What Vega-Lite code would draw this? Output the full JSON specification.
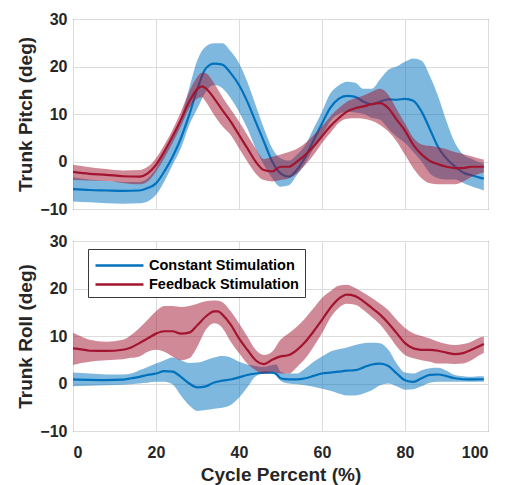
{
  "$schema": "https://vega.github.io/schema/vega-lite/v6.json",
  "padding": {"left": 16, "top": 10, "right": 5, "bottom": 5},
  "background": "white",
  "bounds": "flush",
  "spacing": 32,
  "config": {
    "font": "Liberation Sans",
    "view": {"stroke": "#3a3a3a", "strokeWidth": 1},
    "axis": {
      "labelFont": "Liberation Sans", "labelFontWeight": "bold", "labelFontSize": 16, "labelColor": "#262626",
      "titleFont": "Liberation Sans", "titleFontWeight": "bold", "titleFontSize": 19, "titleColor": "#262626",
      "gridColor": "#dcdcdc", "gridWidth": 1, "domain": false, "ticks": false
    },
    "axisY": {"labelPadding": 6},
    "axisX": {"labelPadding": 13}
  },
  "datasets": {
    "d": [
      {"p":"Pitch","g":"Constant Stimulation","x":0,"m":-5.8,"lo":-8.4,"hi":-3.3},
      {"p":"Pitch","g":"Constant Stimulation","x":4,"m":-6.0,"lo":-8.6,"hi":-3.8},
      {"p":"Pitch","g":"Constant Stimulation","x":8,"m":-6.1,"lo":-8.8,"hi":-4.1},
      {"p":"Pitch","g":"Constant Stimulation","x":12,"m":-6.2,"lo":-8.9,"hi":-4.3},
      {"p":"Pitch","g":"Constant Stimulation","x":16,"m":-6.1,"lo":-8.8,"hi":-4.3},
      {"p":"Pitch","g":"Constant Stimulation","x":18,"m":-5.6,"lo":-8.4,"hi":-3.5},
      {"p":"Pitch","g":"Constant Stimulation","x":20,"m":-4.6,"lo":-7.0,"hi":-1.4},
      {"p":"Pitch","g":"Constant Stimulation","x":22,"m":-2.1,"lo":-4.2,"hi":1.8},
      {"p":"Pitch","g":"Constant Stimulation","x":24,"m":1.0,"lo":-0.7,"hi":4.9},
      {"p":"Pitch","g":"Constant Stimulation","x":26,"m":4.9,"lo":2.8,"hi":9.1},
      {"p":"Pitch","g":"Constant Stimulation","x":28,"m":9.8,"lo":7.7,"hi":15.4},
      {"p":"Pitch","g":"Constant Stimulation","x":30,"m":15.4,"lo":11.2,"hi":21.4},
      {"p":"Pitch","g":"Constant Stimulation","x":32,"m":19.6,"lo":14.7,"hi":24.2},
      {"p":"Pitch","g":"Constant Stimulation","x":34,"m":20.6,"lo":16.1,"hi":24.9},
      {"p":"Pitch","g":"Constant Stimulation","x":36,"m":20.4,"lo":15.4,"hi":24.9},
      {"p":"Pitch","g":"Constant Stimulation","x":38,"m":18.6,"lo":13.3,"hi":23.2},
      {"p":"Pitch","g":"Constant Stimulation","x":40,"m":16.1,"lo":10.5,"hi":20.7},
      {"p":"Pitch","g":"Constant Stimulation","x":42,"m":12.6,"lo":7.0,"hi":16.8},
      {"p":"Pitch","g":"Constant Stimulation","x":44,"m":8.4,"lo":2.8,"hi":11.9},
      {"p":"Pitch","g":"Constant Stimulation","x":46,"m":4.2,"lo":-0.7,"hi":7.0},
      {"p":"Pitch","g":"Constant Stimulation","x":48,"m":0.0,"lo":-3.5,"hi":2.8},
      {"p":"Pitch","g":"Constant Stimulation","x":50,"m":-2.5,"lo":-5.3,"hi":0.7},
      {"p":"Pitch","g":"Constant Stimulation","x":52,"m":-3.2,"lo":-5.0,"hi":0.2},
      {"p":"Pitch","g":"Constant Stimulation","x":54,"m":-1.7,"lo":-2.8,"hi":1.5},
      {"p":"Pitch","g":"Constant Stimulation","x":56,"m":1.0,"lo":-0.3,"hi":3.5},
      {"p":"Pitch","g":"Constant Stimulation","x":58,"m":4.5,"lo":2.8,"hi":7.0},
      {"p":"Pitch","g":"Constant Stimulation","x":60,"m":8.0,"lo":5.5,"hi":10.5},
      {"p":"Pitch","g":"Constant Stimulation","x":62,"m":11.3,"lo":8.5,"hi":14.3},
      {"p":"Pitch","g":"Constant Stimulation","x":64,"m":13.2,"lo":10.0,"hi":16.0},
      {"p":"Pitch","g":"Constant Stimulation","x":66,"m":13.8,"lo":10.4,"hi":16.8},
      {"p":"Pitch","g":"Constant Stimulation","x":68,"m":13.6,"lo":10.3,"hi":16.6},
      {"p":"Pitch","g":"Constant Stimulation","x":70,"m":12.6,"lo":10.0,"hi":15.3},
      {"p":"Pitch","g":"Constant Stimulation","x":72,"m":12.0,"lo":9.2,"hi":15.3},
      {"p":"Pitch","g":"Constant Stimulation","x":74,"m":12.6,"lo":8.8,"hi":17.3},
      {"p":"Pitch","g":"Constant Stimulation","x":76,"m":13.1,"lo":6.9,"hi":19.3},
      {"p":"Pitch","g":"Constant Stimulation","x":78,"m":13.0,"lo":5.2,"hi":20.0},
      {"p":"Pitch","g":"Constant Stimulation","x":80,"m":13.2,"lo":3.9,"hi":21.0},
      {"p":"Pitch","g":"Constant Stimulation","x":82,"m":12.8,"lo":2.0,"hi":21.7},
      {"p":"Pitch","g":"Constant Stimulation","x":84,"m":10.5,"lo":0.0,"hi":21.2},
      {"p":"Pitch","g":"Constant Stimulation","x":86,"m":6.8,"lo":-2.5,"hi":18.0},
      {"p":"Pitch","g":"Constant Stimulation","x":88,"m":3.0,"lo":-3.5,"hi":13.7},
      {"p":"Pitch","g":"Constant Stimulation","x":90,"m":0.6,"lo":-3.8,"hi":8.5},
      {"p":"Pitch","g":"Constant Stimulation","x":92,"m":-1.0,"lo":-3.8,"hi":4.0},
      {"p":"Pitch","g":"Constant Stimulation","x":94,"m":-2.3,"lo":-4.5,"hi":1.5},
      {"p":"Pitch","g":"Constant Stimulation","x":96,"m":-2.9,"lo":-5.2,"hi":0.6},
      {"p":"Pitch","g":"Constant Stimulation","x":98,"m":-3.4,"lo":-5.8,"hi":-0.2},
      {"p":"Pitch","g":"Constant Stimulation","x":99,"m":-3.6,"lo":-6.1,"hi":-0.4},

      {"p":"Pitch","g":"Feedback Stimulation","x":0,"m":-2.2,"lo":-3.9,"hi":-0.7},
      {"p":"Pitch","g":"Feedback Stimulation","x":4,"m":-2.6,"lo":-4.0,"hi":-1.2},
      {"p":"Pitch","g":"Feedback Stimulation","x":8,"m":-2.8,"lo":-4.1,"hi":-1.6},
      {"p":"Pitch","g":"Feedback Stimulation","x":12,"m":-3.1,"lo":-4.5,"hi":-1.9},
      {"p":"Pitch","g":"Feedback Stimulation","x":16,"m":-3.2,"lo":-4.8,"hi":-1.8},
      {"p":"Pitch","g":"Feedback Stimulation","x":18,"m":-2.5,"lo":-4.2,"hi":-1.1},
      {"p":"Pitch","g":"Feedback Stimulation","x":20,"m":-0.7,"lo":-2.1,"hi":0.7},
      {"p":"Pitch","g":"Feedback Stimulation","x":22,"m":2.1,"lo":0.7,"hi":3.5},
      {"p":"Pitch","g":"Feedback Stimulation","x":24,"m":5.3,"lo":3.9,"hi":6.7},
      {"p":"Pitch","g":"Feedback Stimulation","x":26,"m":8.8,"lo":7.4,"hi":10.5},
      {"p":"Pitch","g":"Feedback Stimulation","x":28,"m":12.6,"lo":11.2,"hi":14.7},
      {"p":"Pitch","g":"Feedback Stimulation","x":30,"m":15.3,"lo":13.3,"hi":17.9},
      {"p":"Pitch","g":"Feedback Stimulation","x":31,"m":15.8,"lo":13.6,"hi":18.7},
      {"p":"Pitch","g":"Feedback Stimulation","x":32,"m":15.4,"lo":12.6,"hi":18.6},
      {"p":"Pitch","g":"Feedback Stimulation","x":34,"m":13.3,"lo":9.8,"hi":16.5},
      {"p":"Pitch","g":"Feedback Stimulation","x":36,"m":10.8,"lo":7.4,"hi":13.6},
      {"p":"Pitch","g":"Feedback Stimulation","x":38,"m":8.4,"lo":5.6,"hi":11.0},
      {"p":"Pitch","g":"Feedback Stimulation","x":40,"m":5.6,"lo":2.8,"hi":8.4},
      {"p":"Pitch","g":"Feedback Stimulation","x":42,"m":2.8,"lo":0.0,"hi":5.6},
      {"p":"Pitch","g":"Feedback Stimulation","x":44,"m":0.0,"lo":-2.5,"hi":2.8},
      {"p":"Pitch","g":"Feedback Stimulation","x":46,"m":-1.8,"lo":-3.9,"hi":0.5},
      {"p":"Pitch","g":"Feedback Stimulation","x":48,"m":-2.1,"lo":-4.2,"hi":1.0},
      {"p":"Pitch","g":"Feedback Stimulation","x":50,"m":-1.1,"lo":-3.9,"hi":1.5},
      {"p":"Pitch","g":"Feedback Stimulation","x":52,"m":-1.1,"lo":-3.5,"hi":2.0},
      {"p":"Pitch","g":"Feedback Stimulation","x":54,"m":0.0,"lo":-2.5,"hi":2.7},
      {"p":"Pitch","g":"Feedback Stimulation","x":56,"m":1.4,"lo":-0.7,"hi":3.9},
      {"p":"Pitch","g":"Feedback Stimulation","x":58,"m":3.2,"lo":1.4,"hi":5.6},
      {"p":"Pitch","g":"Feedback Stimulation","x":60,"m":5.3,"lo":3.9,"hi":7.4},
      {"p":"Pitch","g":"Feedback Stimulation","x":62,"m":7.4,"lo":6.0,"hi":9.5},
      {"p":"Pitch","g":"Feedback Stimulation","x":64,"m":9.1,"lo":8.1,"hi":11.2},
      {"p":"Pitch","g":"Feedback Stimulation","x":66,"m":10.5,"lo":9.0,"hi":12.6},
      {"p":"Pitch","g":"Feedback Stimulation","x":68,"m":11.2,"lo":9.1,"hi":13.3},
      {"p":"Pitch","g":"Feedback Stimulation","x":70,"m":11.6,"lo":9.0,"hi":13.9},
      {"p":"Pitch","g":"Feedback Stimulation","x":72,"m":12.1,"lo":8.6,"hi":14.7},
      {"p":"Pitch","g":"Feedback Stimulation","x":74,"m":12.3,"lo":7.7,"hi":15.3},
      {"p":"Pitch","g":"Feedback Stimulation","x":76,"m":11.2,"lo":6.3,"hi":14.0},
      {"p":"Pitch","g":"Feedback Stimulation","x":78,"m":8.8,"lo":4.2,"hi":11.0},
      {"p":"Pitch","g":"Feedback Stimulation","x":80,"m":6.5,"lo":1.4,"hi":8.0},
      {"p":"Pitch","g":"Feedback Stimulation","x":82,"m":3.5,"lo":-1.4,"hi":5.0},
      {"p":"Pitch","g":"Feedback Stimulation","x":84,"m":1.5,"lo":-3.5,"hi":3.6},
      {"p":"Pitch","g":"Feedback Stimulation","x":86,"m":0.1,"lo":-4.6,"hi":3.3},
      {"p":"Pitch","g":"Feedback Stimulation","x":88,"m":-0.6,"lo":-4.8,"hi":3.0},
      {"p":"Pitch","g":"Feedback Stimulation","x":90,"m":-1.1,"lo":-4.8,"hi":2.6},
      {"p":"Pitch","g":"Feedback Stimulation","x":92,"m":-1.4,"lo":-4.8,"hi":2.0},
      {"p":"Pitch","g":"Feedback Stimulation","x":94,"m":-1.4,"lo":-4.2,"hi":1.6},
      {"p":"Pitch","g":"Feedback Stimulation","x":96,"m":-1.1,"lo":-3.2,"hi":1.1},
      {"p":"Pitch","g":"Feedback Stimulation","x":98,"m":-1.1,"lo":-2.5,"hi":0.6},
      {"p":"Pitch","g":"Feedback Stimulation","x":99,"m":-1.1,"lo":-2.3,"hi":0.4},

      {"p":"Roll","g":"Constant Stimulation","x":0,"m":0.85,"lo":-0.6,"hi":2.3},
      {"p":"Roll","g":"Constant Stimulation","x":4,"m":0.75,"lo":-0.45,"hi":2.1},
      {"p":"Roll","g":"Constant Stimulation","x":8,"m":0.7,"lo":-0.35,"hi":1.9},
      {"p":"Roll","g":"Constant Stimulation","x":12,"m":0.8,"lo":-0.25,"hi":1.9},
      {"p":"Roll","g":"Constant Stimulation","x":14,"m":1.1,"lo":-0.15,"hi":2.1},
      {"p":"Roll","g":"Constant Stimulation","x":16,"m":1.4,"lo":0.0,"hi":2.8},
      {"p":"Roll","g":"Constant Stimulation","x":18,"m":1.8,"lo":0.15,"hi":3.5},
      {"p":"Roll","g":"Constant Stimulation","x":20,"m":2.1,"lo":0.35,"hi":4.2},
      {"p":"Roll","g":"Constant Stimulation","x":22,"m":2.6,"lo":0.35,"hi":4.9},
      {"p":"Roll","g":"Constant Stimulation","x":24,"m":2.5,"lo":-0.2,"hi":5.5},
      {"p":"Roll","g":"Constant Stimulation","x":26,"m":1.4,"lo":-2.5,"hi":4.9},
      {"p":"Roll","g":"Constant Stimulation","x":28,"m":0.0,"lo":-4.6,"hi":4.3},
      {"p":"Roll","g":"Constant Stimulation","x":30,"m":-0.8,"lo":-5.8,"hi":4.4},
      {"p":"Roll","g":"Constant Stimulation","x":32,"m":-0.6,"lo":-5.6,"hi":4.9},
      {"p":"Roll","g":"Constant Stimulation","x":34,"m":0.2,"lo":-5.3,"hi":5.5},
      {"p":"Roll","g":"Constant Stimulation","x":36,"m":0.6,"lo":-5.1,"hi":5.8},
      {"p":"Roll","g":"Constant Stimulation","x":38,"m":0.85,"lo":-4.5,"hi":5.5},
      {"p":"Roll","g":"Constant Stimulation","x":40,"m":1.3,"lo":-3.0,"hi":4.6},
      {"p":"Roll","g":"Constant Stimulation","x":42,"m":1.8,"lo":-0.8,"hi":4.0},
      {"p":"Roll","g":"Constant Stimulation","x":44,"m":2.1,"lo":1.5,"hi":3.7},
      {"p":"Roll","g":"Constant Stimulation","x":46,"m":2.3,"lo":2.1,"hi":3.5},
      {"p":"Roll","g":"Constant Stimulation","x":48,"m":2.3,"lo":2.1,"hi":3.9},
      {"p":"Roll","g":"Constant Stimulation","x":49,"m":2.0,"lo":1.6,"hi":4.0},
      {"p":"Roll","g":"Constant Stimulation","x":50,"m":1.1,"lo":0.6,"hi":2.5},
      {"p":"Roll","g":"Constant Stimulation","x":52,"m":0.85,"lo":0.0,"hi":2.1},
      {"p":"Roll","g":"Constant Stimulation","x":54,"m":0.85,"lo":-0.15,"hi":2.1},
      {"p":"Roll","g":"Constant Stimulation","x":56,"m":1.1,"lo":-0.35,"hi":3.2},
      {"p":"Roll","g":"Constant Stimulation","x":58,"m":1.6,"lo":-0.7,"hi":4.6},
      {"p":"Roll","g":"Constant Stimulation","x":60,"m":2.1,"lo":-1.1,"hi":5.7},
      {"p":"Roll","g":"Constant Stimulation","x":62,"m":2.3,"lo":-1.55,"hi":6.7},
      {"p":"Roll","g":"Constant Stimulation","x":64,"m":2.5,"lo":-2.1,"hi":7.2},
      {"p":"Roll","g":"Constant Stimulation","x":66,"m":2.7,"lo":-2.5,"hi":7.6},
      {"p":"Roll","g":"Constant Stimulation","x":68,"m":2.8,"lo":-2.5,"hi":8.1},
      {"p":"Roll","g":"Constant Stimulation","x":70,"m":3.4,"lo":-2.1,"hi":8.5},
      {"p":"Roll","g":"Constant Stimulation","x":72,"m":4.0,"lo":-1.4,"hi":8.6},
      {"p":"Roll","g":"Constant Stimulation","x":74,"m":4.2,"lo":-0.35,"hi":8.5},
      {"p":"Roll","g":"Constant Stimulation","x":76,"m":3.7,"lo":0.0,"hi":7.1},
      {"p":"Roll","g":"Constant Stimulation","x":78,"m":2.1,"lo":-0.6,"hi":4.2},
      {"p":"Roll","g":"Constant Stimulation","x":80,"m":0.7,"lo":-1.3,"hi":2.3},
      {"p":"Roll","g":"Constant Stimulation","x":82,"m":0.35,"lo":-1.2,"hi":2.1},
      {"p":"Roll","g":"Constant Stimulation","x":84,"m":1.1,"lo":-0.6,"hi":2.8},
      {"p":"Roll","g":"Constant Stimulation","x":86,"m":1.8,"lo":0.15,"hi":3.2},
      {"p":"Roll","g":"Constant Stimulation","x":88,"m":1.9,"lo":0.35,"hi":3.3},
      {"p":"Roll","g":"Constant Stimulation","x":90,"m":1.55,"lo":0.35,"hi":2.7},
      {"p":"Roll","g":"Constant Stimulation","x":92,"m":1.1,"lo":0.35,"hi":1.8},
      {"p":"Roll","g":"Constant Stimulation","x":94,"m":0.9,"lo":0.35,"hi":1.55},
      {"p":"Roll","g":"Constant Stimulation","x":96,"m":0.85,"lo":0.35,"hi":1.4},
      {"p":"Roll","g":"Constant Stimulation","x":98,"m":0.9,"lo":0.35,"hi":1.55},
      {"p":"Roll","g":"Constant Stimulation","x":99,"m":0.9,"lo":0.35,"hi":1.55},

      {"p":"Roll","g":"Feedback Stimulation","x":0,"m":7.4,"lo":3.9,"hi":10.7},
      {"p":"Roll","g":"Feedback Stimulation","x":2,"m":7.2,"lo":4.3,"hi":9.9},
      {"p":"Roll","g":"Feedback Stimulation","x":4,"m":6.9,"lo":4.6,"hi":9.2},
      {"p":"Roll","g":"Feedback Stimulation","x":8,"m":6.85,"lo":4.9,"hi":8.8},
      {"p":"Roll","g":"Feedback Stimulation","x":12,"m":7.1,"lo":5.1,"hi":9.2},
      {"p":"Roll","g":"Feedback Stimulation","x":14,"m":7.6,"lo":5.4,"hi":10.2},
      {"p":"Roll","g":"Feedback Stimulation","x":16,"m":8.5,"lo":5.7,"hi":11.7},
      {"p":"Roll","g":"Feedback Stimulation","x":18,"m":9.5,"lo":6.7,"hi":13.4},
      {"p":"Roll","g":"Feedback Stimulation","x":20,"m":10.5,"lo":7.1,"hi":15.2},
      {"p":"Roll","g":"Feedback Stimulation","x":22,"m":11.0,"lo":6.7,"hi":16.3},
      {"p":"Roll","g":"Feedback Stimulation","x":24,"m":11.0,"lo":5.7,"hi":16.3},
      {"p":"Roll","g":"Feedback Stimulation","x":26,"m":10.5,"lo":4.9,"hi":16.1},
      {"p":"Roll","g":"Feedback Stimulation","x":28,"m":10.7,"lo":5.3,"hi":16.3},
      {"p":"Roll","g":"Feedback Stimulation","x":30,"m":12.3,"lo":7.8,"hi":16.8},
      {"p":"Roll","g":"Feedback Stimulation","x":32,"m":14.1,"lo":11.3,"hi":17.3},
      {"p":"Roll","g":"Feedback Stimulation","x":34,"m":15.2,"lo":12.7,"hi":17.5},
      {"p":"Roll","g":"Feedback Stimulation","x":35,"m":15.2,"lo":12.5,"hi":17.4},
      {"p":"Roll","g":"Feedback Stimulation","x":36,"m":14.5,"lo":11.7,"hi":17.1},
      {"p":"Roll","g":"Feedback Stimulation","x":38,"m":12.4,"lo":8.8,"hi":15.2},
      {"p":"Roll","g":"Feedback Stimulation","x":40,"m":9.5,"lo":6.4,"hi":12.7},
      {"p":"Roll","g":"Feedback Stimulation","x":42,"m":7.1,"lo":4.2,"hi":9.9},
      {"p":"Roll","g":"Feedback Stimulation","x":44,"m":4.9,"lo":2.8,"hi":7.1},
      {"p":"Roll","g":"Feedback Stimulation","x":46,"m":4.1,"lo":2.1,"hi":6.0},
      {"p":"Roll","g":"Feedback Stimulation","x":48,"m":5.0,"lo":2.5,"hi":6.7},
      {"p":"Roll","g":"Feedback Stimulation","x":50,"m":5.7,"lo":2.1,"hi":9.2},
      {"p":"Roll","g":"Feedback Stimulation","x":52,"m":6.0,"lo":2.1,"hi":10.6},
      {"p":"Roll","g":"Feedback Stimulation","x":54,"m":7.1,"lo":3.5,"hi":12.0},
      {"p":"Roll","g":"Feedback Stimulation","x":56,"m":8.8,"lo":5.3,"hi":13.8},
      {"p":"Roll","g":"Feedback Stimulation","x":58,"m":11.0,"lo":7.8,"hi":15.9},
      {"p":"Roll","g":"Feedback Stimulation","x":60,"m":13.4,"lo":10.6,"hi":18.0},
      {"p":"Roll","g":"Feedback Stimulation","x":62,"m":15.9,"lo":13.8,"hi":19.4},
      {"p":"Roll","g":"Feedback Stimulation","x":64,"m":17.8,"lo":15.9,"hi":20.6},
      {"p":"Roll","g":"Feedback Stimulation","x":66,"m":18.7,"lo":16.8,"hi":20.8},
      {"p":"Roll","g":"Feedback Stimulation","x":68,"m":18.4,"lo":16.6,"hi":20.1},
      {"p":"Roll","g":"Feedback Stimulation","x":70,"m":17.3,"lo":15.5,"hi":19.1},
      {"p":"Roll","g":"Feedback Stimulation","x":72,"m":15.9,"lo":14.0,"hi":18.0},
      {"p":"Roll","g":"Feedback Stimulation","x":74,"m":14.5,"lo":12.4,"hi":16.8},
      {"p":"Roll","g":"Feedback Stimulation","x":76,"m":12.7,"lo":10.2,"hi":15.4},
      {"p":"Roll","g":"Feedback Stimulation","x":78,"m":10.6,"lo":7.8,"hi":13.4},
      {"p":"Roll","g":"Feedback Stimulation","x":80,"m":8.5,"lo":6.0,"hi":11.7},
      {"p":"Roll","g":"Feedback Stimulation","x":82,"m":7.4,"lo":5.3,"hi":10.6},
      {"p":"Roll","g":"Feedback Stimulation","x":84,"m":7.1,"lo":4.9,"hi":10.0},
      {"p":"Roll","g":"Feedback Stimulation","x":86,"m":7.1,"lo":4.6,"hi":9.5},
      {"p":"Roll","g":"Feedback Stimulation","x":88,"m":6.9,"lo":4.2,"hi":8.8},
      {"p":"Roll","g":"Feedback Stimulation","x":90,"m":6.5,"lo":4.2,"hi":8.3},
      {"p":"Roll","g":"Feedback Stimulation","x":92,"m":6.2,"lo":4.1,"hi":8.1},
      {"p":"Roll","g":"Feedback Stimulation","x":94,"m":6.4,"lo":4.2,"hi":8.3},
      {"p":"Roll","g":"Feedback Stimulation","x":96,"m":7.1,"lo":4.9,"hi":8.8},
      {"p":"Roll","g":"Feedback Stimulation","x":98,"m":7.9,"lo":6.0,"hi":9.7},
      {"p":"Roll","g":"Feedback Stimulation","x":99,"m":8.3,"lo":6.5,"hi":9.9}
    ]
  },
  "resolve": {"scale": {"stroke": "independent"}, "legend": {"stroke": "independent"}},
  "vconcat": [
    {
      "width": 415, "height": 190,
      "data": {"name": "d"},
      "transform": [{"filter": "datum.p === 'Pitch'"}],
      "encoding": {
        "x": {"field": "x", "type": "quantitative", "scale": {"domain": [0, 100], "nice": false, "zero": false},
              "axis": {"values": [0, 20, 40, 60, 80, 100], "labels": false, "title": null, "grid": true}}
      },
      "layer": [
        {"transform": [{"filter": "datum.g === 'Constant Stimulation'"}],
         "mark": {"type": "area", "opacity": 0.5, "interpolate": "monotone", "color": "#0072BD"},
         "encoding": {"y": {"field": "lo", "type": "quantitative", "scale": {"domain": [-10, 30], "nice": false, "zero": false},
                            "axis": {"values": [-10, 0, 10, 20, 30], "title": "Trunk Pitch (deg)", "grid": true}},
                      "y2": {"field": "hi"}}},
        {"transform": [{"filter": "datum.g === 'Constant Stimulation'"}],
         "mark": {"type": "line", "strokeWidth": 2.2, "interpolate": "monotone"},
         "encoding": {"y": {"field": "m", "type": "quantitative"},
                      "stroke": {"field": "g", "type": "nominal", "scale": {"domain": ["Constant Stimulation", "Feedback Stimulation"], "range": ["#0072BD", "#A2142F"]}, "legend": null}}},
        {"transform": [{"filter": "datum.g === 'Feedback Stimulation'"}],
         "mark": {"type": "area", "opacity": 0.5, "interpolate": "monotone", "color": "#A2142F"},
         "encoding": {"y": {"field": "lo", "type": "quantitative"},
                      "y2": {"field": "hi"}}},
        {"transform": [{"filter": "datum.g === 'Feedback Stimulation'"}],
         "mark": {"type": "line", "strokeWidth": 2.2, "interpolate": "monotone"},
         "encoding": {"y": {"field": "m", "type": "quantitative"},
                      "stroke": {"field": "g", "type": "nominal", "scale": {"domain": ["Constant Stimulation", "Feedback Stimulation"], "range": ["#0072BD", "#A2142F"]}, "legend": null}}}
      ]
    },
    {
      "width": 415, "height": 190,
      "data": {"name": "d"},
      "transform": [{"filter": "datum.p === 'Roll'"}],
      "encoding": {
        "x": {"field": "x", "type": "quantitative", "scale": {"domain": [0, 100], "nice": false, "zero": false},
              "axis": {"values": [0, 20, 40, 60, 80, 100], "title": "Cycle Percent (%)", "grid": true, "titlePadding": 5}}
      },
      "layer": [
        {"transform": [{"filter": "datum.g === 'Constant Stimulation'"}],
         "mark": {"type": "area", "opacity": 0.5, "interpolate": "monotone", "color": "#0072BD"},
         "encoding": {"y": {"field": "lo", "type": "quantitative", "scale": {"domain": [-10, 30], "nice": false, "zero": false},
                            "axis": {"values": [-10, 0, 10, 20, 30], "title": "Trunk Roll (deg)", "grid": true}},
                      "y2": {"field": "hi"}}},
        {"transform": [{"filter": "datum.g === 'Constant Stimulation'"}],
         "mark": {"type": "line", "strokeWidth": 2.2, "interpolate": "monotone"},
         "encoding": {"y": {"field": "m", "type": "quantitative"},
                      "stroke": {"field": "g", "type": "nominal", "scale": {"domain": ["Constant Stimulation", "Feedback Stimulation"], "range": ["#0072BD", "#A2142F"]},
                                 "legend": {"title": null, "orient": "none", "legendX": 15, "legendY": 8, "symbolType": "M-1,0L4.33,0", "symbolSize": 324, "symbolStrokeWidth": 2.5,
                                            "labelFontSize": 14.5, "labelFontWeight": "bold", "labelColor": "#000000", "labelFont": "Liberation Sans",
                                            "strokeColor": "#3a3a3a", "fillColor": "white", "padding": 6, "rowPadding": 2, "labelOffset": 34}}}},
        {"transform": [{"filter": "datum.g === 'Feedback Stimulation'"}],
         "mark": {"type": "area", "opacity": 0.5, "interpolate": "monotone", "color": "#A2142F"},
         "encoding": {"y": {"field": "lo", "type": "quantitative"},
                      "y2": {"field": "hi"}}},
        {"transform": [{"filter": "datum.g === 'Feedback Stimulation'"}],
         "mark": {"type": "line", "strokeWidth": 2.2, "interpolate": "monotone"},
         "encoding": {"y": {"field": "m", "type": "quantitative"},
                      "stroke": {"field": "g", "type": "nominal", "scale": {"domain": ["Constant Stimulation", "Feedback Stimulation"], "range": ["#0072BD", "#A2142F"]}}}}
      ]
    }
  ]
}
